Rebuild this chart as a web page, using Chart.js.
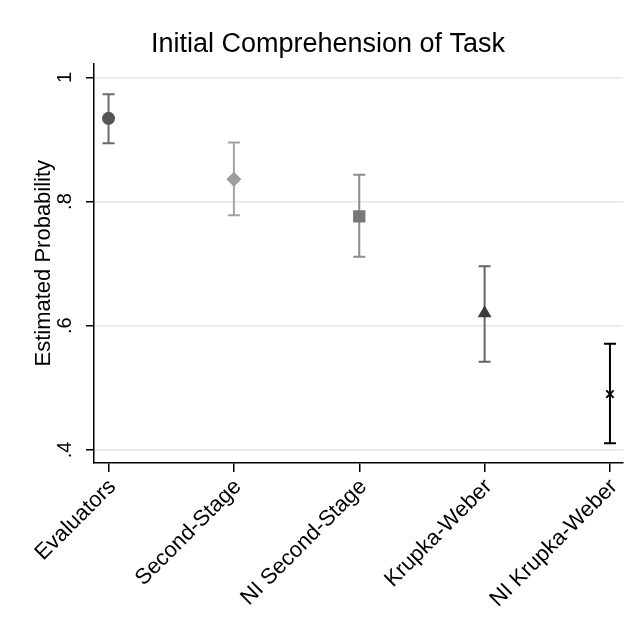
<!DOCTYPE html>
<html>
<head>
<meta charset="utf-8">
<script src="https://cdn.jsdelivr.net/npm/chart.js@4/dist/chart.umd.min.js"></script>
<style>
  html, body { margin: 0; padding: 0; background: #fff; }
  #wrap { width: 635px; height: 642px; position: relative; }
</style>
</head>
<body>
<div id="wrap"><canvas id="chart" width="635" height="642"></canvas></div>
<script>
// data
const groups = ['Evaluators', 'Second-Stage', 'NI Second-Stage', 'Krupka-Weber', 'NI Krupka-Weber'];
const estimate = [0.934, 0.836, 0.776, 0.620, 0.490];
const lower = [0.894, 0.778, 0.711, 0.542, 0.411];
const upper = [0.973, 0.895, 0.843, 0.696, 0.571];
const yTicks = [0.4, 0.6, 0.8, 1];

// look of each group
const markerStyle = ['circle', 'rectRot', 'rect', 'triangle', 'crossRot'];
const markerSize = [6.5, 7.5, 8.7, 8, 5.2];
const markerColor = ['#555555', '#9c9c9c', '#777777', '#3c3c3c', '#000000'];
const barColor = ['#6a6a6a', '#a3a3a3', '#8c8c8c', '#666666', '#000000'];

const font = '"Liberation Sans", Arial, Helvetica, sans-serif';

function fmtTick(v) {
    if (v === 1) return '1';
    return v.toFixed(1).replace(/^0/, '');
}

// error bars, drawn under the markers
const errorBars = {
    id: 'errorBars',
    beforeDatasetsDraw(chart) {
        const ctx = chart.ctx, xs = chart.scales.x, ys = chart.scales.y;
        ctx.save();
        ctx.lineWidth = 2;
        for (let i = 0; i < groups.length; i++) {
            let x = xs.getPixelForValue(i);
            let y1 = ys.getPixelForValue(lower[i]);
            let y2 = ys.getPixelForValue(upper[i]);
            ctx.strokeStyle = barColor[i];
            ctx.beginPath();
            ctx.moveTo(x, y1); ctx.lineTo(x, y2);
            ctx.moveTo(x - 6, y1); ctx.lineTo(x + 6, y1);
            ctx.moveTo(x - 6, y2); ctx.lineTo(x + 6, y2);
            ctx.stroke();
        }
        ctx.restore();
    }
};

new Chart(document.getElementById('chart'), {
    type: 'scatter',
    data: {
        datasets: [{
            data: estimate.map((v, i) => ({ x: i, y: v })),
            pointStyle: markerStyle,
            pointRadius: markerSize,
            pointHoverRadius: markerSize,
            pointBackgroundColor: markerColor,
            pointBorderColor: markerColor,
            pointBorderWidth: (c) => c.dataIndex === 4 ? 2 : 0,
            showLine: false
        }]
    },
    plugins: [errorBars],
    options: {
        responsive: false,
        animation: false,
        layout: { padding: { left: 33, right: 12, top: 0, bottom: 0 } },
        plugins: {
            legend: { display: false },
            tooltip: { enabled: false },
            title: {
                display: true,
                text: 'Initial Comprehension of Task',
                color: '#000',
                font: { family: font, size: 27, weight: 'normal' },
                padding: { top: 28, bottom: 3 }
            }
        },
        scales: {
            x: {
                type: 'linear',
                min: -0.116,
                max: 4.104,
                afterBuildTicks: (s) => { s.ticks = groups.map((g, i) => ({ value: i })); },
                afterFit: (s) => { s.height = 179; },
                ticks: {
                    callback: (v) => groups[v],
                    minRotation: 45,
                    maxRotation: 45,
                    labelOffset: 4,
                    color: '#000',
                    padding: 2,
                    font: { family: font, size: 22 }
                },
                grid: { drawOnChartArea: false, tickLength: 9, color: '#000', lineWidth: 1.5 },
                border: { display: true, color: '#000', width: 1.5 }
            },
            y: {
                min: 0.379,
                max: 1.0225,
                afterBuildTicks: (s) => { s.ticks = yTicks.map(v => ({ value: v })); },
                afterFit: (s) => { s.width = 61; },
                ticks: {
                    callback: (v) => fmtTick(v),
                    minRotation: 90,
                    maxRotation: 90,
                    crossAlign: 'center',
                    padding: 12,
                    color: '#000',
                    font: { family: font, size: 20 }
                },
                grid: { color: '#e6e6e6', lineWidth: 1.5, tickLength: 8, tickColor: '#000' },
                border: { display: true, color: '#000', width: 1.5 },
                title: {
                    display: true,
                    text: 'Estimated Probability',
                    color: '#000',
                    font: { family: font, size: 22, lineHeight: 1 },
                    padding: { top: 0, bottom: 0 }
                }
            }
        }
    }
});
</script>
</body>
</html>
